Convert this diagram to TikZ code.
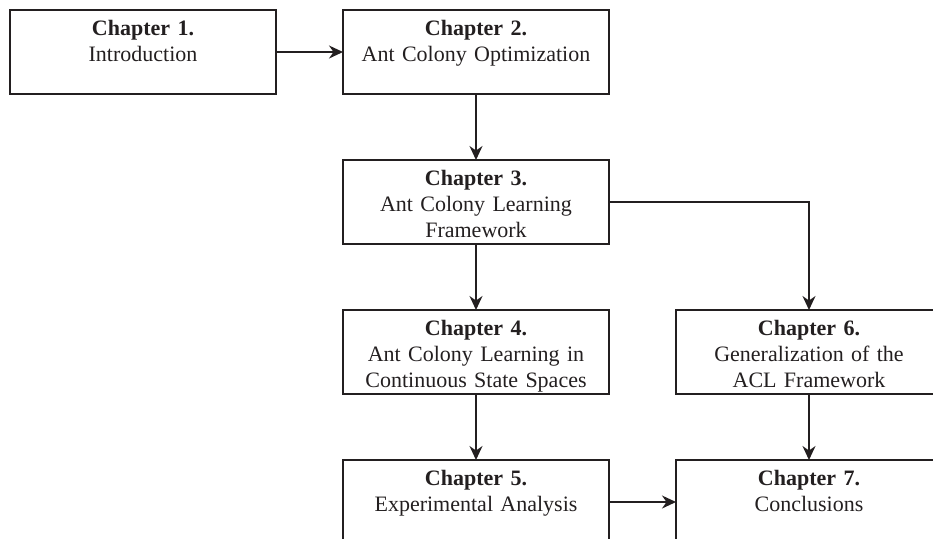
\documentclass[tikz,border=0pt]{standalone}
\usepackage{fontspec}
\setmainfont{Liberation Serif}
\usepackage{tikz}
\usetikzlibrary{arrows.meta,positioning}
\definecolor{ink}{HTML}{231F20}

\begin{document}
\begin{tikzpicture}[
  font=\fontsize{11}{13}\selectfont,
  box/.style={draw=ink,text=ink,line width=0.9pt,align=center,text width=133pt,inner xsep=0pt,inner ysep=0pt,outer sep=0pt,text height=12.5pt,text depth=29.5pt},
  fl/.style={-{Stealth[length=7pt,width=6.5pt]},ink,line width=0.9pt},
  node distance=33pt and 33.5pt,
]
\node[box] (ch1) {\textbf{Chapter 1.}\\Introduction};
\node[box,right=of ch1] (ch2) {\textbf{Chapter 2.}\\Ant Colony Optimization};
\node[box,below=of ch2] (ch3) {\textbf{Chapter 3.}\\Ant Colony Learning\\Framework};
\node[box,below=of ch3] (ch4) {\textbf{Chapter 4.}\\Ant Colony Learning in\\Continuous State Spaces};
\node[box,below=of ch4] (ch5) {\textbf{Chapter 5.}\\Experimental Analysis};
\node[box,right=of ch4] (ch6) {\textbf{Chapter 6.}\\Generalization of the\\ACL Framework};
\node[box,right=of ch5] (ch7) {\textbf{Chapter 7.}\\Conclusions};
\draw[fl] (ch1) -- (ch2);
\draw[fl] (ch2) -- (ch3);
\draw[fl] (ch3) -- (ch4);
\draw[fl] (ch4) -- (ch5);
\draw[fl] (ch3.east) -| (ch6.north);
\draw[fl] (ch6) -- (ch7);
\draw[fl] (ch5) -- (ch7);
% the page is cut at the right and at the bottom
\pgfresetboundingbox
\useasboundingbox ([xshift=-5pt,yshift=5pt]ch1.north west) rectangle ++(466.5pt,-269pt);
\end{tikzpicture}
\end{document}
